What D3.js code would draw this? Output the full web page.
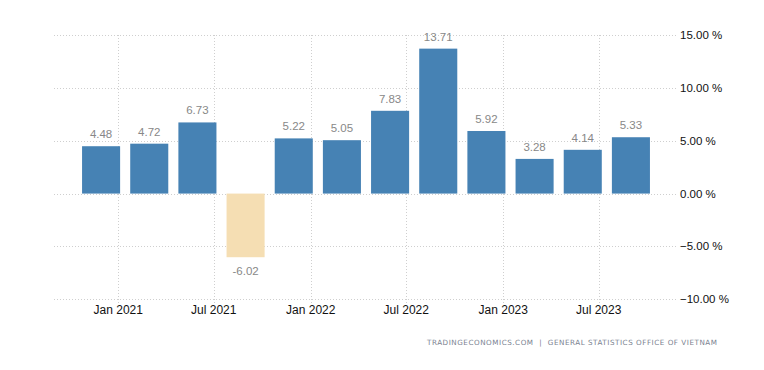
<!DOCTYPE html>
<html>
<head>
<meta charset="utf-8">
<script src="https://cdn.jsdelivr.net/npm/d3@7"></script>
<style>
  body { margin: 0; background: #fff; }
  svg { display: block; }
</style>
</head>
<body>
<svg id="chart"></svg>
<script>
// quarterly GDP growth, Vietnam
const quarters = ['2020Q4', '2021Q1', '2021Q2', '2021Q3', '2021Q4', '2022Q1',
  '2022Q2', '2022Q3', '2022Q4', '2023Q1', '2023Q2', '2023Q3'];
const growth = [4.48, 4.72, 6.73, -6.02, 5.22, 5.05, 7.83, 13.71, 5.92, 3.28, 4.14, 5.33];
const yTicks = [-10, -5, 0, 5, 10, 15];
const xTickDates = ['2021-01-01', '2021-07-01', '2022-01-01', '2022-07-01', '2023-01-01', '2023-07-01'];
const source = 'TRADINGECONOMICS.COM  |  GENERAL STATISTICS OFFICE OF VIETNAM';

const width = 764, height = 370;
const plotLeft = 54, plotRight = 677, plotTop = 35, plotBottom = 299.3;

const svg = d3.select('#chart').attr('width', width).attr('height', height);

const data = quarters.map((q, i) => ({ q: q, v: growth[i] }));

const x = d3.scaleBand()
  .domain(quarters)
  .range([77, 655])
  .paddingInner(0.21)
  .paddingOuter(0.105);

// separate time scale only for the date gridlines / labels
const parse = d3.timeParse('%Y-%m-%d');
const xt = d3.scaleTime()
  .domain([parse('2021-01-01'), parse('2023-07-01')])
  .range([118.3, 598.7]);

const y = d3.scaleLinear().domain([-10, 15]).range([plotBottom, plotTop]);

// horizontal grid
svg.append('g')
  .selectAll('line')
  .data(yTicks)
  .join('line')
  .attr('x1', plotLeft).attr('x2', plotRight)
  .attr('y1', d => Math.round(y(d)) + 0.5).attr('y2', d => Math.round(y(d)) + 0.5)
  .attr('stroke', '#cfcfcf')
  .attr('stroke-dasharray', '1,2');

// vertical grid
svg.append('g')
  .selectAll('line')
  .data(xTickDates.map(parse))
  .join('line')
  .attr('x1', d => Math.round(xt(d)) + 0.5).attr('x2', d => Math.round(xt(d)) + 0.5)
  .attr('y1', plotTop).attr('y2', plotBottom + 5)
  .attr('stroke', '#cfcfcf')
  .attr('stroke-dasharray', '1,2');

// bars
svg.append('g')
  .selectAll('rect')
  .data(data)
  .join('rect')
  .attr('x', d => x(d.q))
  .attr('width', x.bandwidth())
  .attr('y', d => y(Math.max(0, d.v)))
  .attr('height', d => Math.abs(y(d.v) - y(0)))
  .attr('fill', d => d.v < 0 ? '#f5deb3' : '#4682b4');

// value labels
svg.append('g')
  .selectAll('text')
  .data(data)
  .join('text')
  .attr('x', d => x(d.q) + x.bandwidth() / 2)
  .attr('y', d => d.v < 0 ? y(d.v) + 18 : y(d.v) - 8)
  .attr('text-anchor', 'middle')
  .attr('font-family', 'Liberation Sans, Arial, sans-serif')
  .attr('font-size', 11.5)
  .attr('fill', '#888')
  .text(d => d.v.toFixed(2));

// y labels (right)
svg.append('g')
  .selectAll('text')
  .data(yTicks)
  .join('text')
  .attr('x', 680)
  .attr('y', d => y(d))
  .attr('dy', '0.35em')
  .attr('font-family', 'Liberation Sans, Arial, sans-serif')
  .attr('font-size', 11.5)
  .attr('fill', '#111')
  .text(d => d3.format('.2f')(d) + ' %');

// x labels
const fmt = d3.timeFormat('%b %Y');
svg.append('g')
  .selectAll('text')
  .data(xTickDates.map(parse))
  .join('text')
  .attr('x', d => xt(d))
  .attr('y', 314)
  .attr('text-anchor', 'middle')
  .attr('font-family', 'Liberation Sans, Arial, sans-serif')
  .attr('font-size', 12)
  .attr('fill', '#111')
  .text(d => fmt(d));

// source
svg.append('text')
  .attr('x', 717)
  .attr('y', 345)
  .attr('text-anchor', 'end')
  .attr('font-family', 'DejaVu Sans, sans-serif')
  .attr('font-size', 7.2)
  .attr('fill', '#7a8290')
  .style('white-space', 'pre')
  .attr('textLength', 290)
  .attr('lengthAdjust', 'spacing')
  .text(source);
</script>
</body>
</html>
